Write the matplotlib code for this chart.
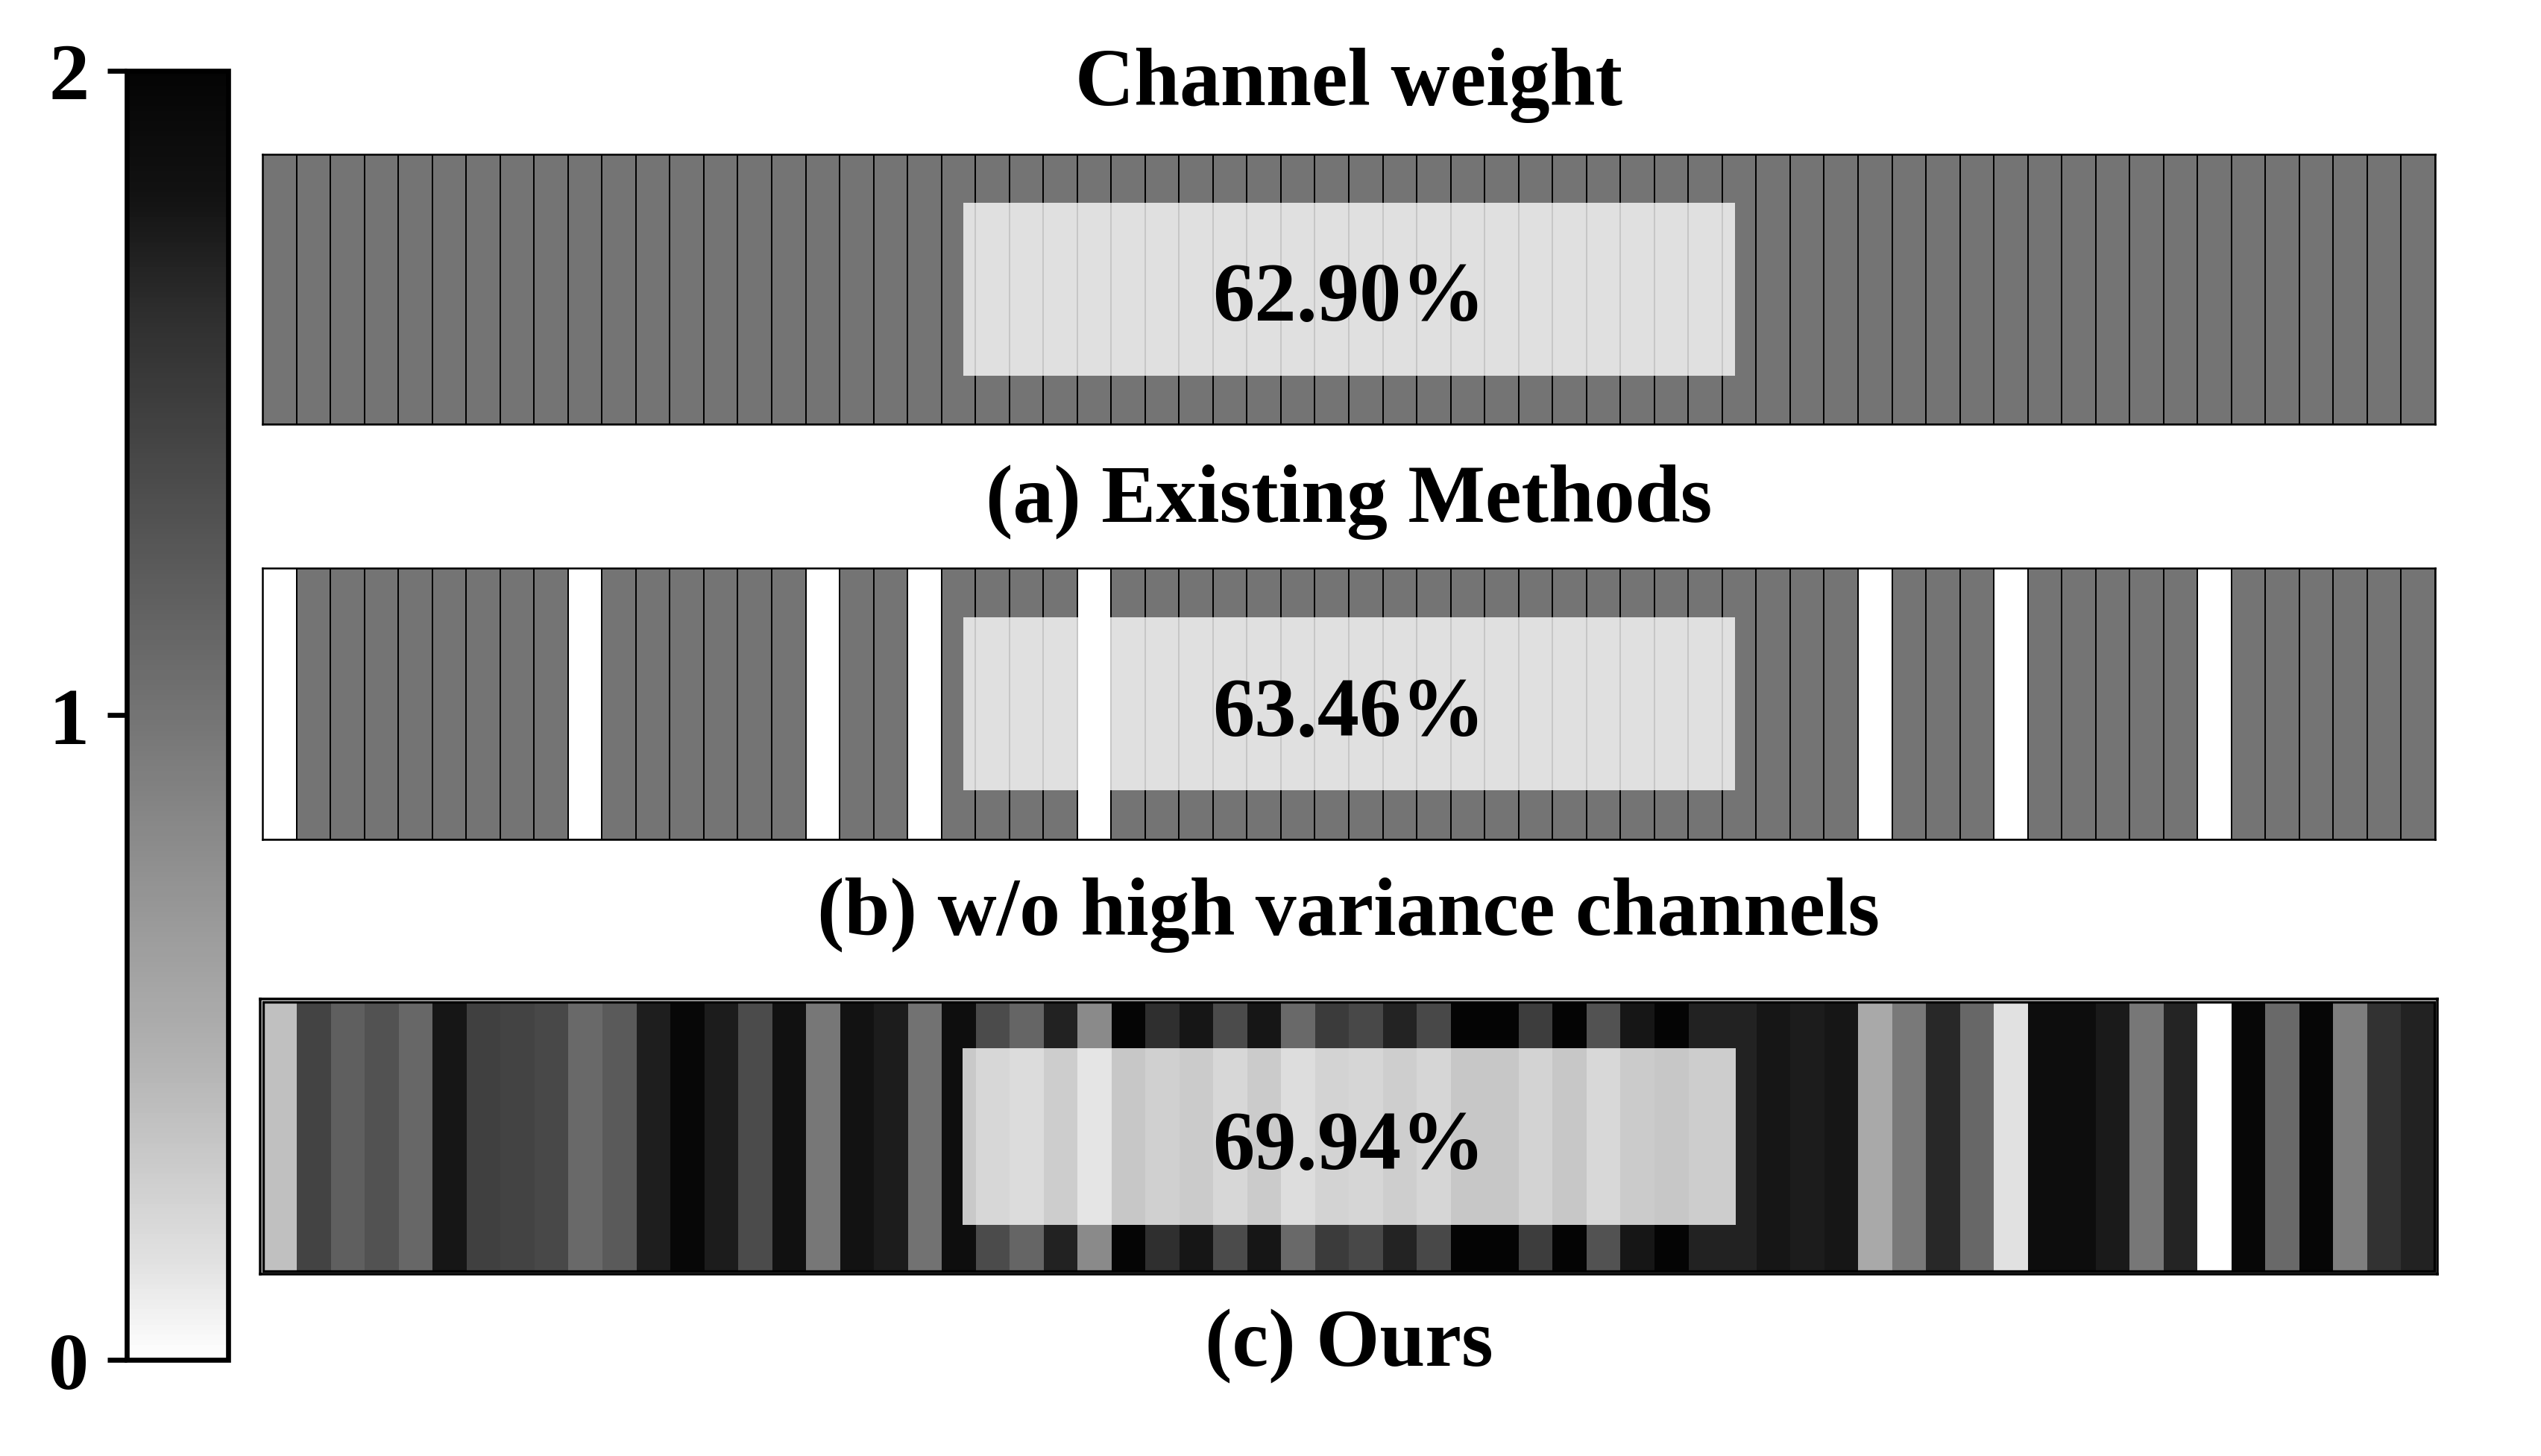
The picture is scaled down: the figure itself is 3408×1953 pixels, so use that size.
import matplotlib
matplotlib.use("Agg")
import matplotlib.pyplot as plt
import numpy as np
from matplotlib.colors import LinearSegmentedColormap, Normalize
from matplotlib.cm import ScalarMappable
from matplotlib.patches import Rectangle

plt.rcParams["font.family"] = ["Liberation Serif", "DejaVu Serif"]
plt.rcParams["font.weight"] = "bold"

N_CH = 64
VMIN, VMAX = 0.0, 2.0

# (a) every channel gets the same weight
weights_a = [1.0] * N_CH

# (b) same, but the high variance channels are dropped (weight 0)
dropped_b = [0, 9, 16, 19, 24, 47, 51, 57]
weights_b = [0.0 if i in dropped_b else 1.0 for i in range(N_CH)]

# (c) learned per-channel weights
weights_c = [
    0.37, 1.43, 1.18, 1.30, 1.11, 1.78, 1.46, 1.43, 1.39, 1.09, 1.23, 1.72, 1.95, 1.74, 1.36, 1.82,
    0.97, 1.80, 1.74, 1.01, 1.85, 1.36, 1.13, 1.70, 0.81, 1.97, 1.61, 1.78, 1.36, 1.78, 1.09, 1.50,
    1.39, 1.69, 1.39, 2.00, 2.00, 1.48, 2.00, 1.30, 1.78, 2.00, 1.70, 1.70, 1.78, 1.74, 1.78, 0.54,
    0.95, 1.66, 1.11, 0.15, 1.86, 1.86, 1.75, 0.97, 1.68, 0.00, 1.95, 1.09, 1.96, 0.91, 1.58, 1.70,
]

accuracies = ["62.90%", "63.46%", "69.94%"]
captions = ["(a) Existing Methods", "(b) w/o high variance channels", "(c) Ours"]

# grey ramp as it looks in the colour bar (not quite linear)
cmap = LinearSegmentedColormap.from_list(
    "weight_grey",
    [(0.0, "#ffffff"), (0.0725, "#e2e2e2"), (0.234, "#b2b2b2"), (0.5, "#747474"),
     (0.8125, "#2e2e2e"), (0.905, "#121212"), (1.0, "#040404")],
)
norm = Normalize(VMIN, VMAX)

FS = 26.3
BOX = (0.3226, 0.18, 0.3552, 0.64)

fig = plt.figure(figsize=(11.36, 6.5133), dpi=300)

# strip positions in figure fraction
strip_axes = [
    fig.add_axes([0.10329, 0.70829, 0.85505, 0.18526]),
    fig.add_axes([0.10329, 0.42323, 0.85505, 0.18628]),
    fig.add_axes([0.10241, 0.12487, 0.85681, 0.18884]),
]

x_edges = np.arange(N_CH + 1)
for ax, w in zip(strip_axes[:2], [weights_a, weights_b]):
    ax.pcolormesh(x_edges, [0, 1], np.array(w)[None, :], cmap=cmap, norm=norm,
                  edgecolors="black", linewidth=0.45)
    ax.set_xlim(0, N_CH)
    ax.set_ylim(0, 1)
    for s in ax.spines.values():
        s.set_linewidth(0.6)

ax_c = strip_axes[2]
ax_c.imshow(np.array(weights_c)[None, :], cmap=cmap, norm=norm, aspect="auto",
            extent=(0, N_CH, 0, 1), interpolation="nearest")
ax_c.add_patch(Rectangle((0, 0), N_CH, 1, fill=False, edgecolor="black", linewidth=0.8))
ax_c.set_xlim(-0.08, N_CH + 0.08)
ax_c.set_ylim(-0.012, 1.012)
for s in ax_c.spines.values():
    s.set_linewidth(0.85)

for ax, acc in zip(strip_axes, accuracies):
    ax.set_xticks([])
    ax.set_yticks([])
    ax.add_patch(Rectangle(BOX[:2], BOX[2], BOX[3], transform=ax.transAxes,
                           facecolor="white", alpha=0.78, edgecolor="none", zorder=5))
    ax.text(0.5, 0.386, acc, transform=ax.transAxes, ha="center", va="baseline",
            fontsize=27, fontweight="bold", zorder=6)

xc = 0.5308
fig.text(xc, 0.928, "Channel weight", ha="center", va="baseline", fontsize=FS, fontweight="bold")
for y, cap in zip([0.6418, 0.358, 0.0624], captions):
    fig.text(xc, y, cap, ha="center", va="baseline", fontsize=FS, fontweight="bold")

# colour bar on the left
cax = fig.add_axes([0.04988, 0.0660, 0.0399, 0.8849])
sm = ScalarMappable(norm=norm, cmap=cmap)
cb = fig.colorbar(sm, cax=cax, ticks=[0, 1, 2])
cb.outline.set_linewidth(1.6)
cax.yaxis.set_ticks_position("left")
cax.tick_params(axis="y", length=6.2, width=1.6, pad=6, labelsize=26)
cax.set_yticklabels(["0", "1", "2"], fontweight="bold")

fig.savefig("out.png", dpi=300)
